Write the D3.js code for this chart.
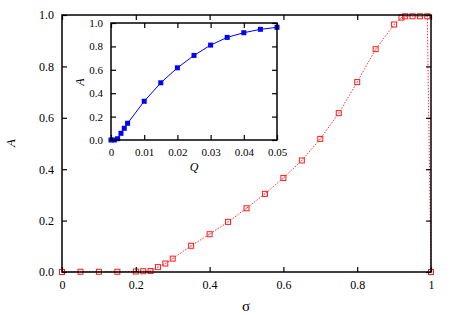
<!DOCTYPE html>
<html>
<head>
<meta charset="utf-8">
<script src="https://cdn.jsdelivr.net/npm/d3@7"></script>
<style>
  body { margin: 0; background: #fff; }
  text { font-family: "Liberation Serif", "DejaVu Serif", serif; fill: #000; }
</style>
</head>
<body>
<div id="chart"></div>
<script>
// main curve: A vs sigma
var sigma = [0, 0.05, 0.1, 0.15, 0.2, 0.22, 0.24, 0.26, 0.28, 0.3, 0.35, 0.4, 0.45, 0.5, 0.55, 0.6, 0.65, 0.7, 0.75, 0.8, 0.85, 0.9, 0.92, 0.93, 0.95, 0.97, 0.99, 1.0];
var A_sigma = [0, 0.001, 0.001, 0.001, 0.002, 0.003, 0.004, 0.019, 0.033, 0.052, 0.102, 0.147, 0.195, 0.248, 0.304, 0.366, 0.434, 0.518, 0.618, 0.739, 0.867, 0.963, 0.99, 0.995, 0.995, 0.995, 0.995, 0];

// inset: A vs Q
var Q = [0, 0.001, 0.002, 0.003, 0.004, 0.005, 0.01, 0.015, 0.02, 0.025, 0.03, 0.035, 0.04, 0.045, 0.05];
var A_Q = [0, 0, 0.011, 0.057, 0.1, 0.143, 0.331, 0.489, 0.617, 0.723, 0.811, 0.877, 0.917, 0.946, 0.963];

var mainXTicks = [0, 0.2, 0.4, 0.6, 0.8, 1];
var mainYTicks = [0, 0.2, 0.4, 0.6, 0.8, 1.0];
var insetXTicks = [0, 0.01, 0.02, 0.03, 0.04, 0.05];
var insetYTicks = [0, 0.2, 0.4, 0.6, 0.8, 1.0];

var width = 463, height = 315;
var svg = d3.select("#chart").append("svg")
    .attr("width", width)
    .attr("height", height);

function xFmt(d) { return d === 0 ? "0" : (d === 1 ? "1" : d3.format(".1f")(d)); }
function qFmt(d) { return d === 0 ? "0" : d3.format(".2f")(d); }

// draws a framed panel with inward ticks on all four sides
function panel(box, xs, ys, xt, yt, xf, fs) {
    var g = svg.append("g");
    g.append("g").attr("transform", `translate(0,${box.bottom})`)
        .call(d3.axisBottom(xs).tickValues(xt).tickFormat(xf).tickSizeInner(-5).tickSizeOuter(0).tickPadding(8));
    g.append("g").attr("transform", `translate(${box.left},0)`)
        .call(d3.axisLeft(ys).tickValues(yt).tickFormat(d3.format(".1f")).tickSizeInner(-5).tickSizeOuter(0).tickPadding(8));
    g.append("g").attr("transform", `translate(0,${box.top})`)
        .call(d3.axisTop(xs).tickValues(xt).tickFormat("").tickSizeInner(-5).tickSizeOuter(0));
    g.append("g").attr("transform", `translate(${box.right},0)`)
        .call(d3.axisRight(ys).tickValues(yt).tickFormat("").tickSizeInner(-5).tickSizeOuter(0));
    g.selectAll(".domain").remove();
    g.selectAll(".tick line").attr("stroke", "#000").attr("stroke-width", 1.2);
    g.selectAll(".tick text").style("font-size", fs + "px")
        .style("font-family", "'Liberation Serif', serif");
    g.append("rect")
        .attr("x", box.left).attr("y", box.top)
        .attr("width", box.right - box.left).attr("height", box.bottom - box.top)
        .attr("fill", "none").attr("stroke", "#000").attr("stroke-width", 1.5);
    return g;
}

// main panel
var main = { left: 62, right: 431, top: 15, bottom: 272 };
var x = d3.scaleLinear().domain([0, 1]).range([main.left, main.right]);
var y = d3.scaleLinear().domain([0, 1]).range([main.bottom, main.top]);

var mainLine = d3.line().x((d, i) => x(sigma[i])).y(d => y(d));
svg.append("path")
    .datum(A_sigma)
    .attr("d", mainLine)
    .attr("fill", "none")
    .attr("stroke", "#ff3030")
    .attr("stroke-width", 1)
    .attr("stroke-dasharray", "1.5,1.5");

var marks = svg.append("g").selectAll("g")
    .data(A_sigma)
    .enter()
    .append("g")
    .attr("transform", (d, i) => `translate(${x(sigma[i])},${y(d)})`);
marks.append("rect")
    .attr("x", -2.5).attr("y", -2.5)
    .attr("width", 5).attr("height", 5)
    .attr("fill", "none")
    .attr("stroke", "#ff1a1a")
    .attr("stroke-width", 1);
marks.append("rect")
    .attr("x", -0.5).attr("y", -0.5)
    .attr("width", 1).attr("height", 1)
    .attr("fill", "#ff6060");

panel(main, x, y, mainXTicks, mainYTicks, xFmt, 12);

svg.append("text")
    .attr("transform", "translate(15,143) rotate(-90)")
    .attr("text-anchor", "middle")
    .style("font-size", "13px")
    .style("font-style", "italic")
    .text("A");

svg.append("text")
    .attr("x", 246).attr("y", 311)
    .attr("text-anchor", "middle")
    .style("font-size", "15px")
    .text("σ");

// inset panel
var inset = { left: 111, right: 277, top: 23, bottom: 140 };
svg.append("rect")
    .attr("x", inset.left).attr("y", inset.top)
    .attr("width", inset.right - inset.left).attr("height", inset.bottom - inset.top)
    .attr("fill", "#fff");

var xi = d3.scaleLinear().domain([0, 0.05]).range([inset.left, inset.right]);
var yi = d3.scaleLinear().domain([0, 1]).range([inset.bottom, inset.top]);

var insetLine = d3.line().x((d, i) => xi(Q[i])).y(d => yi(d));
svg.append("path")
    .datum(A_Q)
    .attr("d", insetLine)
    .attr("fill", "none")
    .attr("stroke", "#0000ff")
    .attr("stroke-width", 1);

svg.append("g").selectAll("rect")
    .data(A_Q)
    .enter()
    .append("rect")
    .attr("x", (d, i) => xi(Q[i]) - 2.5)
    .attr("y", d => yi(d) - 2.5)
    .attr("width", 5)
    .attr("height", 5)
    .attr("fill", "#0000ff");

panel(inset, xi, yi, insetXTicks, insetYTicks, qFmt, 11);

svg.append("text")
    .attr("transform", "translate(84,82) rotate(-90)")
    .attr("text-anchor", "middle")
    .style("font-size", "12px")
    .style("font-style", "italic")
    .text("A");

svg.append("text")
    .attr("x", 194).attr("y", 171)
    .attr("text-anchor", "middle")
    .style("font-size", "12px")
    .style("font-style", "italic")
    .text("Q");
</script>
</body>
</html>
